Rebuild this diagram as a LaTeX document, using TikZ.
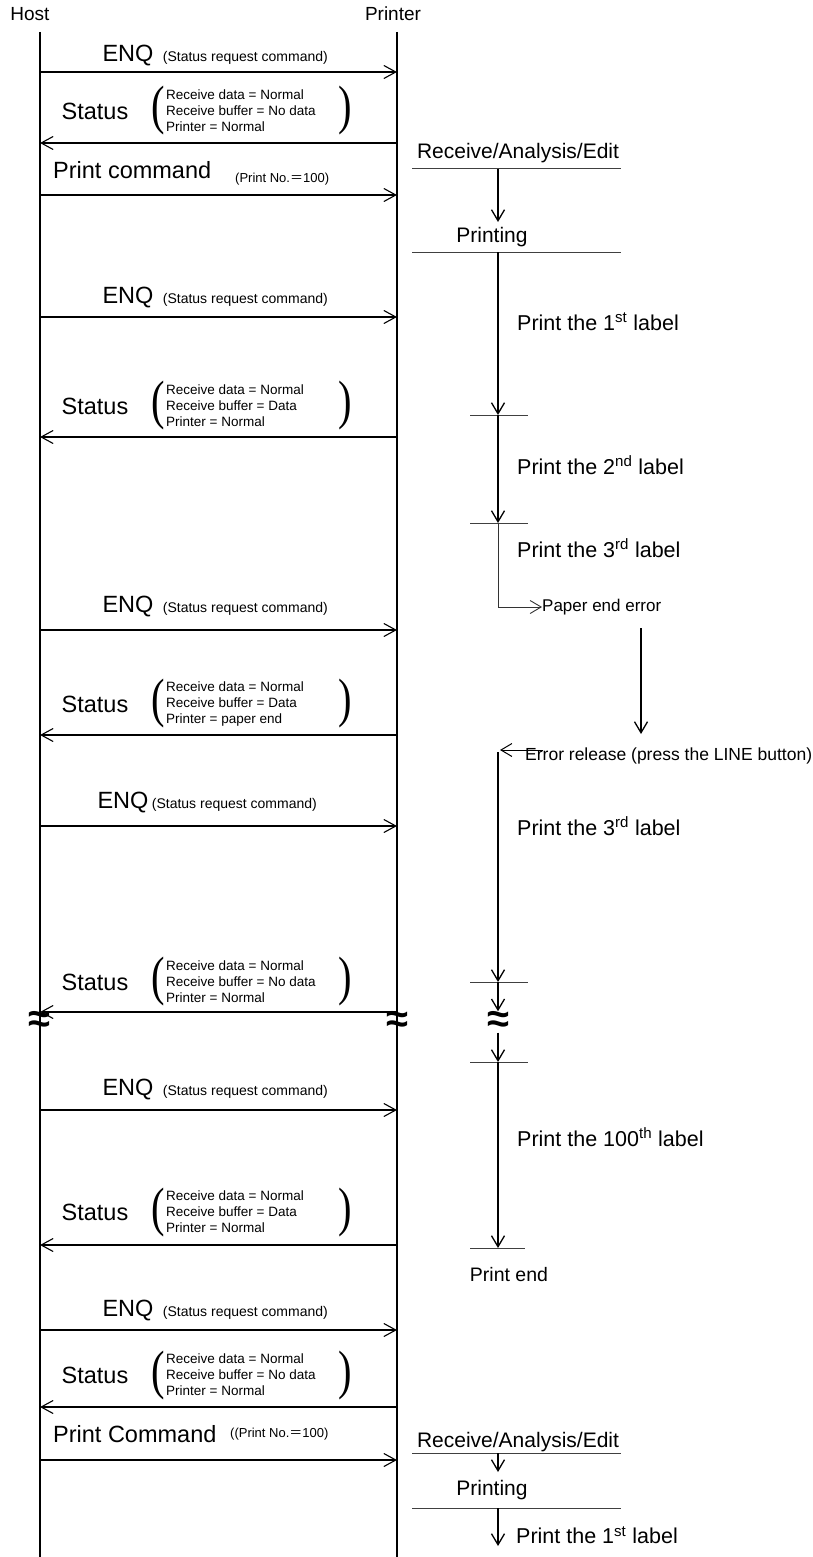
\documentclass[tikz,border=0pt]{standalone}
\usepackage{fontspec}
\setmainfont{Liberation Sans}
\newfontfamily\cjk{Noto Sans CJK JP}
\newfontfamily\parenfont{Liberation Serif}
\usetikzlibrary{arrows.meta,positioning}

\begin{document}
\begin{tikzpicture}[
  x=1pt, y=-1pt,
  every node/.style={inner sep=0pt, font=\fontsize{23.5}{27}\selectfont},
  head/.style={font=\fontsize{19}{22}\selectfont},
  life/.style={line width=1.9pt},
  msg/.style={line width=1.1pt, -{Straight Barb[length=12pt,width=13pt]}},
  flow/.style={line width=1.3pt, -{Straight Barb[length=11pt,width=13pt]}},
  bar/.style={line width=1pt, draw=black!75},
  note/.style={font=\fontsize{14}{16}\selectfont},
  stat/.style={font=\fontsize{13.5}{16}\selectfont, align=left, anchor=west},
  paren/.style={font=\parenfont\fontsize{54}{54}\selectfont},
  task/.style={font=\fontsize{21.5}{25}\selectfont},
  gap/.style={font=\fontsize{40}{40}\selectfont\bfseries}
]
\useasboundingbox (0,0) rectangle (813,1557);

\node[head] (host) at (30,14) {Host};
\node[head] (printer) at (393,14) {Printer};
\coordinate (hosttop) at (40,32);
\coordinate (hostend) at (40,1557);
\coordinate (printertop) at (397,32);
\coordinate (printerend) at (397,1557);
\draw[life] (hosttop) -- (hostend);
\draw[life] (printertop) -- (printerend);

\foreach \n/\y in {e1/72, s1/143, c1/195, e2/317, s2/437, e3/630, s3/735,
                   e4/826, s4/1012, e5/1110, s5/1245, e6/1330, s6/1407, c2/1460} {
  \coordinate (h\n) at (40,\y);
  \coordinate (p\n) at (397,\y);
}
\foreach \n in {e1,c1,e2,e3,e4,e5,e6,c2}
  \draw[msg] (h\n) -- (p\n);
\foreach \n in {s1,s2,s3,s4,s5,s6}
  \draw[msg] (p\n) -- (h\n);

\foreach \n/\x/\y/\g in {1/128/56/9, 2/128/298/9, 3/128/607/9,
                         4/123/803/3, 5/128/1090/9, 6/128/1310/9} {
  \node (enq\n) at (\x,\y) {ENQ};
  \node[note, anchor=base west] (req\n) at ([xshift=\g pt]enq\n.base east)
    {(Status request command)};
}

\foreach \n/\y/\buf/\prn in {1/111/No data/Normal, 2/406/Data/Normal,
                             3/704/Data/paper end, 4/982/No data/Normal,
                             5/1212/Data/Normal, 6/1375/No data/Normal} {
  \node (st\n) at (95,\y) {Status};
  \node[paren] (lp\n) at (158,\y) {\scalebox{0.75}[1]{(}};
  \node[stat] (sv\n) at (166,\y)
    {Receive data = Normal\\Receive buffer = \buf\\Printer = \prn};
  \node[paren] (rp\n) at (345,\y) {\scalebox{0.75}[1]{)}};
}

\node[anchor=west] (pc1) at (53,170) {Print command};
\node[note, anchor=west, font=\fontsize{13}{15}\selectfont] (pn1) at (235,179) {(Print No.{\cjk ＝}100)};
\node[anchor=west] (pc2) at (53,1434) {Print Command};
\node[note, anchor=west, font=\fontsize{13}{15}\selectfont] (pn2) at (230,1434) {((Print No.{\cjk ＝}100)};

\foreach \n/\y/\l/\r in {1/169/412/621, 2/252/412/621, 3/415/470/528,
                         4/523/470/528, 5/982/470/528, 6/1062/470/528,
                         7/1248/470/525, 8/1453/412/621, 9/1508/412/621} {
  \coordinate (b\n) at (498,\y);
  \draw[bar] (\l,\y) -- (\r,\y);
}

\node[task, font=\fontsize{21}{25}\selectfont] (rae1) at (518,153) {Receive/Analysis/Edit};
\node[task, font=\fontsize{21}{25}\selectfont] (prt1) at (492,237) {Printing};
\node[task, anchor=west] (lab1) at (517,322) {Print the 1\textsuperscript{st} label};
\node[task, anchor=west] (lab2) at (517,465) {Print the 2\textsuperscript{nd} label};
\node[task, anchor=west] (lab3) at (517,548) {Print the 3\textsuperscript{rd} label};
\node[task, anchor=west, font=\fontsize{17}{20}\selectfont] (pe) at (542,607) {Paper end error};
\node[task, anchor=west, font=\fontsize{17.5}{20}\selectfont] (er) at (525,756)
  {Error release (press the LINE button)};
\node[task, anchor=west] (lab4) at (517,826) {Print the 3\textsuperscript{rd} label};
\node[task, anchor=west] (lab5) at (517,1137) {Print the 100\textsuperscript{th} label};
\node[task, font=\fontsize{19.5}{23}\selectfont] (pend) at (509,1275) {Print end};
\node[task, font=\fontsize{21}{25}\selectfont] (rae2) at (518,1442) {Receive/Analysis/Edit};
\node[task, font=\fontsize{21}{25}\selectfont] (prt2) at (492,1490) {Printing};
\node[task, anchor=west] (lab6) at (516,1535) {Print the 1\textsuperscript{st} label};

\node[gap] (gap1) at (39,1022) {≈};
\node[gap] (gap2) at (397,1022) {≈};
\node[gap] (gap3) at (498,1022) {≈};

\coordinate (t1) at (498,222);
\coordinate (pe0) at (498,607);
\coordinate (w0) at (641,628);
\coordinate (w1) at (641,734);
\coordinate (r0) at (543,750);
\coordinate (r1) at (500,750);
\coordinate (v0) at (498,752);
\coordinate (t2) at (498,1472);
\coordinate (t3) at (498,1546);

\draw[flow] (b1) -- (t1);
\draw[flow] (b2) -- (b3);
\draw[flow] (b3) -- (b4);
\draw[flow, line width=0.9pt, draw=black!80] (b4) -- (pe0) -- (pe.west);
\draw[flow] (w0) -- (w1);
\draw[flow, line width=1pt] (r0) -- (r1);
\draw[flow] (v0) -- (b5);
\draw[flow] (b5) -- (gap3.north);
\draw[flow] (gap3.south) -- (b6);
\draw[flow] (b6) -- (b7);
\draw[flow] (b8) -- (t2);
\draw[flow] (b9) -- (t3);
\end{tikzpicture}
\end{document}
